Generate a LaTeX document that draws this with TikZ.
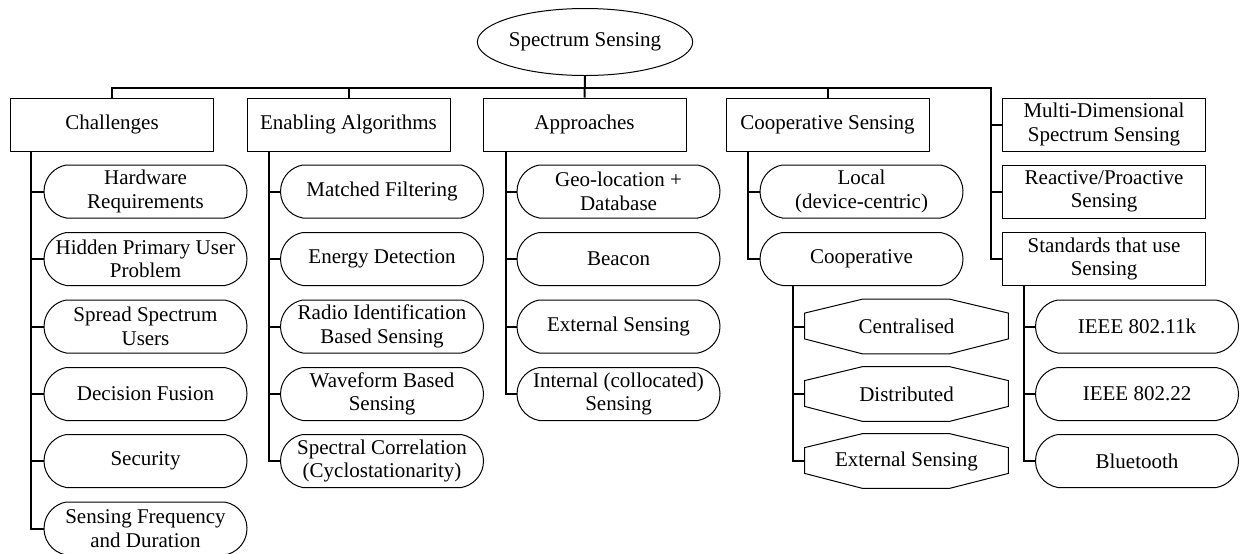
\documentclass[tikz,border=0pt]{standalone}
\usepackage{fontspec}
\setmainfont{Liberation Serif}
\usetikzlibrary{shapes.geometric,shapes.misc,calc}
\newcommand\octpath[1]{\draw[line width=.5pt] ($(#1.north west)+(58,0)$) -- ($(#1.north east)+(-59,0)$) -- ($(#1.north east)+(0,14)$) -- ($(#1.south east)+(0,-15)$) -- ($(#1.south east)+(-59,0)$) -- ($(#1.south west)+(58,0)$) -- ($(#1.south west)+(0,-15)$) -- ($(#1.north west)+(0,14)$) -- cycle;}
\begin{document}
\begin{tikzpicture}[x=0.5pt,y=-0.5pt,
  every node/.style={font=\fontsize{10.5}{11.8}\selectfont, align=center, inner sep=0pt},
  box/.style={draw, line width=0.5pt, minimum width=101.5pt, minimum height=26.5pt},
  pill/.style={draw, line width=0.5pt, rounded rectangle, rounded rectangle arc length=160, minimum width=101.5pt, minimum height=26.5pt},
  oct/.style={minimum width=101.5pt, minimum height=27pt},
  conn/.style={line width=1pt}]
\useasboundingbox (0,0) rectangle (1240,553);

\node[draw, ellipse, line width=.5pt, minimum width=102pt, minimum height=33.5pt] (root) at (585,42) {Spectrum Sensing};
\node[box] (ch) at (112,124.5) {Challenges};
\node[box] (ea) at (348.5,124.5) {Enabling Algorithms};
\node[box] (ap) at (584.5,124.5) {Approaches};
\node[box] (cs) at (827.5,124.5) {Cooperative Sensing};
\node[box] (md) at (1104,124.5) {Multi-Dimensional\\Spectrum Sensing};
\node[box] (rp) at (1104,191.5) {Reactive/Proactive\\Sensing};
\node[box] (st) at (1104,259) {Standards that use\\Sensing};

% Challenges
\node[pill] (c1) at (145.5,191.5) {Hardware\\Requirements};
\node[pill] (c2) at (145.5,259) {Hidden Primary User\\Problem};
\node[pill] (c3) at (145.5,326.5) {Spread Spectrum\\Users};
\node[pill] (c4) at (145.5,394) {Decision Fusion};
\node[pill] (c5) at (145.5,461) {Security};
\node[pill] (c6) at (145.5,528.5) {Sensing Frequency\\and Duration};

% Enabling algorithms
\node[pill] (e1) at (382,191.5) {Matched Filtering};
\node[pill] (e2) at (382,259) {Energy Detection};
\node[pill] (e3) at (382,326.5) {Radio Identification\\Based Sensing};
\node[pill] (e4) at (382,394) {Waveform Based\\Sensing};
\node[pill] (e5) at (382,461) {Spectral Correlation\\(Cyclostationarity)};

% Approaches
\node[pill] (a1) at (618.5,191.5) {Geo-location +\\Database};
\node[pill] (a2) at (618.5,259) {Beacon};
\node[pill] (a3) at (618.5,326.5) {External Sensing};
\node[pill] (a4) at (618.5,394) {Internal (collocated)\\Sensing};

% Cooperative
\node[pill] (k1) at (861.5,191.5) {Local\\(device-centric)};
\node[pill] (k2) at (861.5,259) {Cooperative};
\node[oct] (o1) at (906.5,326.5) {Centralised};
\node[oct] (o2) at (906.5,394) {Distributed};
\node[oct] (o3) at (906.5,461) {External Sensing};
\octpath{o1}\octpath{o2}\octpath{o3}

% Standards
\node[pill] (s1) at (1137,326.5) {IEEE 802.11k};
\node[pill] (s2) at (1137,394) {IEEE 802.22};
\node[pill] (s3) at (1137,461) {Bluetooth};

% top connectors
\coordinate (busR) at (991,88);
\draw[conn] (root.south) -- (ap.north);
\draw[conn] (ch.north) |- (busR) |- (st.west);
\draw[conn] (ea.north) -- (ea.north |- busR);
\draw[conn] (cs.north) -- (cs.north |- busR);
\draw[conn] (busR) |- (md.west);
\draw[conn] (busR) |- (rp.west);

% branches
\coordinate (chx) at ($(ch.south west)+(21,0)$);
\foreach \x in {c1,c2,c3,c4,c5,c6} \draw[conn] (chx) |- (\x.west);
\coordinate (eax) at ($(ea.south west)+(22,0)$);
\foreach \x in {e1,e2,e3,e4,e5} \draw[conn] (eax) |- (\x.west);
\coordinate (apx) at ($(ap.south west)+(23,0)$);
\foreach \x in {a1,a2,a3,a4} \draw[conn] (apx) |- (\x.west);
\coordinate (csx) at ($(cs.south west)+(22,0)$);
\foreach \x in {k1,k2} \draw[conn] (csx) |- (\x.west);
\coordinate (k2x) at ($(k2.west |- k2.south)+(33,0)$);
\foreach \x in {o1,o2,o3} \draw[conn] (k2x) |- (\x.west);
\coordinate (stx) at ($(st.south west)+(22,0)$);
\foreach \x in {s1,s2,s3} \draw[conn] (stx) |- (\x.west);
\end{tikzpicture}
\end{document}
